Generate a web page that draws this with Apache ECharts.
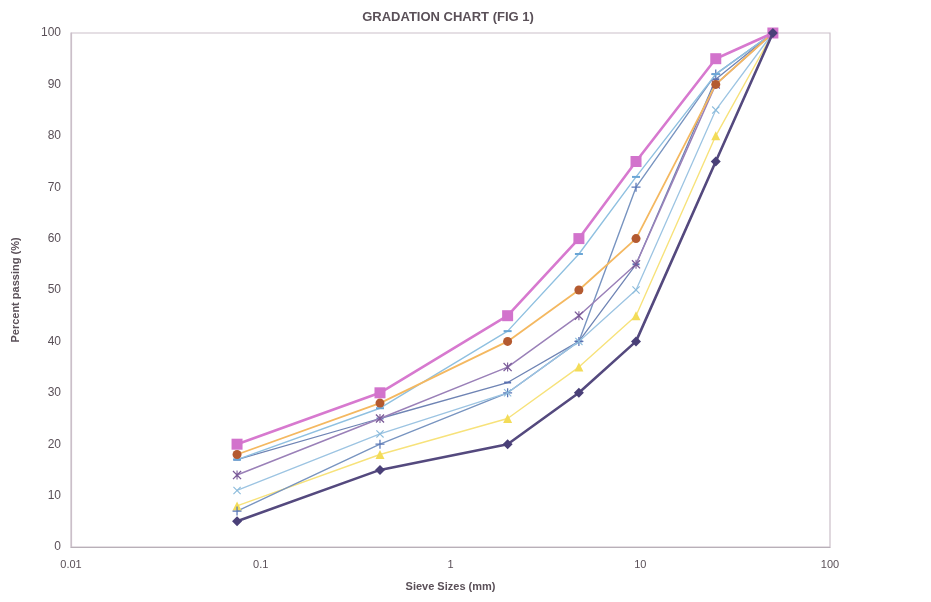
<!DOCTYPE html>
<html><head><meta charset="utf-8">
<script src="https://cdn.jsdelivr.net/npm/echarts@6/dist/echarts.min.js"></script>
<style>html,body{margin:0;padding:0;background:#fff}#c{width:931px;height:602px}</style>
</head><body><div id="c"></div>
<script>
var sieveSizes = [0.075, 0.425, 2.0, 4.75, 9.5, 25, 50];
var xTickLabels = ['0.01', '0.1', '1', '10', '100'];
var seriesA = [20, 30, 45, 60, 75, 95, 100];
var seriesB = [18, 28, 40, 50, 60, 90, 100];
var seriesC = [17, 27, 42, 57, 72, 92, 100];
var seriesD = [14, 25, 35, 45, 55, 90, 100];
var seriesE = [11, 22, 30, 40, 50, 85, 100];
var seriesF = [8, 18, 25, 35, 45, 80, 100];
var seriesG = [7, 20, 30, 40, 70, 92, 100];
var seriesI = [17, 25, 32, 40, 55, 91, 100];
var seriesH = [5, 15, 20, 30, 40, 75, 100];

var X_SYM = 'path://M0,1 L1,0 L5,4 L9,0 L10,1 L6,5 L10,9 L9,10 L5,6 L1,10 L0,9 L4,5 Z';
var PLUS_SYM = 'path://M4.3,0 L5.7,0 L5.7,4.3 L10,4.3 L10,5.7 L5.7,5.7 L5.7,10 L4.3,10 L4.3,5.7 L0,5.7 L0,4.3 L4.3,4.3 Z';
var DASH_SYM = 'path://M0,0 L10,0 L10,2 L0,2 Z';
var AST_SYM = 'path://M0,1 L1,0 L5,4 L9,0 L10,1 L6,5 L10,9 L9,10 L5,6 L1,10 L0,9 L4,5 Z M4.4,0 L5.6,0 L5.6,10 L4.4,10 Z';

function pts(vals){ return sieveSizes.map(function(s,i){ return [s, vals[i]]; }); }
function mk(name, vals, color, width, symbol, size, markerColor, z){
  return {
    name: name, type: 'line', data: pts(vals), z: z || 2,
    symbol: symbol, symbolSize: size, showSymbol: true,
    lineStyle: {color: color, width: width},
    itemStyle: {color: markerColor || color, borderWidth: 0},
    emphasis: {disabled: true}, animation: false
  };
}

var chart = echarts.init(document.getElementById('c'), null, {renderer: 'canvas'});
chart.setOption({
  backgroundColor: '#ffffff',
  animation: false,
  title: {
    text: 'GRADATION CHART (FIG 1)', left: 443, top: 6, textAlign: 'center',
    textStyle: {fontFamily: 'Liberation Sans, Arial, sans-serif', fontSize: 13, fontWeight: 'bold', color: '#5a5058'}
  },
  grid: {left: 71, right: 101, top: 33, bottom: 55, show: true, borderColor: '#cbbfc9', borderWidth: 1.2, backgroundColor: 'transparent'},
  xAxis: {
    type: 'log', logBase: 10, min: 0.01, max: 100,
    name: 'Sieve Sizes (mm)', nameLocation: 'middle', nameGap: 34,
    nameTextStyle: {fontFamily: 'Liberation Sans, Arial, sans-serif', fontSize: 11, fontWeight: 'bold', color: '#5a5058'},
    axisLine: {show: true, lineStyle: {color: '#b8b0b8', width: 1.2}},
    axisTick: {show: false}, splitLine: {show: false}, minorTick: {show: false},
    axisLabel: {
      margin: 12, fontFamily: 'Liberation Sans, Arial, sans-serif', fontSize: 11, color: '#5a5058',
      formatter: function(v){
        var k = Math.round(Math.log10(v)) + 2;
        return xTickLabels[k] !== undefined ? xTickLabels[k] : '';
      }
    }
  },
  yAxis: {
    type: 'value', min: 0, max: 100, interval: 10,
    name: 'Percent passing (%)', nameLocation: 'middle', nameGap: 50, nameRotate: 90,
    nameTextStyle: {fontFamily: 'Liberation Sans, Arial, sans-serif', fontSize: 11, fontWeight: 'bold', color: '#5a5058'},
    axisLine: {show: true, lineStyle: {color: '#cbbfc9', width: 1.2}},
    axisTick: {show: false}, splitLine: {show: false},
    axisLabel: {margin: 10, fontFamily: 'Liberation Sans, Arial, sans-serif', fontSize: 12, color: '#5a5058'}
  },
  series: [
    mk('Navy', seriesH, '#54497e', 2.6, 'diamond', 10, '#4a4078', 9),
    mk('Yellow', seriesF, '#f7e27a', 1.4, 'triangle', 9, '#f3dc58', 3),
    mk('Blue plus', seriesG, '#7894c0', 1.4, PLUS_SYM, 9, '#5a78b8', 3),
    mk('Teal', seriesI, '#6f84b4', 1.3, DASH_SYM, [7, 2], '#5a70b0', 3),
    mk('Light blue x', seriesE, '#9cc4e2', 1.3, X_SYM, 8, '#8cbcdc', 3),
    mk('Purple', seriesD, '#9a80b8', 1.5, AST_SYM, 9, '#7a5a98', 4),
    mk('Light blue', seriesC, '#8fc0e0', 1.4, DASH_SYM, [8, 2], '#6aa6d6', 4),
    mk('Orange', seriesB, '#f4b860', 1.8, 'circle', 9, '#b45a30', 5),
    mk('Pink', seriesA, '#d779cf', 2.6, 'rect', 11, '#d273cc', 8)
  ]
});
</script>
</body></html>
